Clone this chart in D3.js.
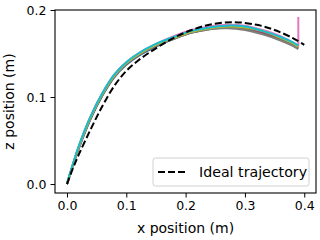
<!DOCTYPE html>
<html>
<head>
<meta charset="utf-8">
<script src="https://cdn.jsdelivr.net/npm/d3@7"></script>
<style>
body { margin: 0; background: #fff; }
text { font-family: "DejaVu Sans", sans-serif; }
</style>
</head>
<body>
<script>
// data
var xs = [0, 0.01, 0.02, 0.04, 0.06, 0.08, 0.10, 0.12, 0.15, 0.18, 0.21, 0.24, 0.27, 0.30, 0.33, 0.36, 0.38, 0.39];

var run0 = [0, 0.021, 0.041, 0.075, 0.102, 0.123, 0.137, 0.147, 0.158, 0.167, 0.174, 0.179, 0.181, 0.180, 0.175, 0.168, 0.162, 0.158];
var run1 = [0, 0.022, 0.043, 0.077, 0.104, 0.125, 0.139, 0.149, 0.160, 0.169, 0.176, 0.180, 0.181, 0.179, 0.174, 0.167, 0.161, 0.157];
var run2 = [0, 0.022, 0.043, 0.077, 0.104, 0.125, 0.139, 0.149, 0.160, 0.168, 0.175, 0.179, 0.181, 0.180, 0.175, 0.168, 0.162, 0.158];
var run3 = [0, 0.022, 0.042, 0.076, 0.103, 0.124, 0.138, 0.148, 0.159, 0.168, 0.175, 0.180, 0.182, 0.180, 0.175, 0.168, 0.162, 0.158];
var run4 = [0, 0.022, 0.043, 0.077, 0.104, 0.125, 0.139, 0.149, 0.160, 0.168, 0.175, 0.180, 0.181, 0.180, 0.175, 0.168, 0.162, 0.158];
var run5 = [0, 0.022, 0.042, 0.076, 0.103, 0.124, 0.138, 0.148, 0.159, 0.167, 0.174, 0.178, 0.180, 0.178, 0.173, 0.166, 0.160, 0.156];
var run6 = [0, 0.022, 0.043, 0.078, 0.105, 0.126, 0.140, 0.150, 0.161, 0.170, 0.177, 0.181, 0.183, 0.182, 0.177, 0.170, 0.163, 0.159];
var run7 = [0, 0.022, 0.042, 0.076, 0.103, 0.124, 0.138, 0.148, 0.159, 0.167, 0.174, 0.178, 0.179, 0.177, 0.172, 0.165, 0.159, 0.155];
var run8 = [0, 0.022, 0.043, 0.077, 0.104, 0.125, 0.139, 0.149, 0.160, 0.168, 0.175, 0.179, 0.181, 0.180, 0.176, 0.168, 0.162, 0.158];
var run9 = [0, 0.023, 0.044, 0.078, 0.105, 0.126, 0.140, 0.150, 0.161, 0.169, 0.176, 0.180, 0.182, 0.181, 0.176, 0.169, 0.163, 0.159];

// the pink run (run6) jumps straight up at its last sample
var spikeRun = 6;
var spikeZ = 0.192;

var idealX = [0, 0.01, 0.02, 0.04, 0.06, 0.08, 0.10, 0.12, 0.15, 0.18, 0.21, 0.24, 0.28, 0.32, 0.35, 0.38, 0.40];
var idealZ = [0, 0.018, 0.034, 0.063, 0.090, 0.113, 0.130, 0.142, 0.156, 0.168, 0.177, 0.183, 0.186, 0.183, 0.177, 0.168, 0.160];

var xTicks = [0, 0.1, 0.2, 0.3, 0.4];
var yTicks = [0, 0.1, 0.2];

var colors = ["#1f77b4", "#ff7f0e", "#2ca02c", "#d62728", "#9467bd",
              "#8c564b", "#e377c2", "#7f7f7f", "#bcbd22", "#17becf"];

var width = 320, height = 240;
var plotLeft = 55, plotRight = 316, plotTop = 10, plotBottom = 193;

var svg = d3.select("body").append("svg")
    .attr("width", width)
    .attr("height", height);

var xScale = d3.scaleLinear().domain([-0.0202, 0.4198]).range([plotLeft, plotRight]);
var yScale = d3.scaleLinear().domain([-0.0103, 0.2]).range([plotBottom, plotTop]);

var runs = [run0, run1, run2, run3, run4, run5, run6, run7, run8, run9].map(function(z, i) {
    return {color: colors[i], i: i, pts: xs.map(function(x, j) { return [x, z[j]]; })};
});

var line = d3.line()
    .x(function(d) { return xScale(d[0]); })
    .y(function(d) { return yScale(d[1]); })
    .curve(d3.curveCatmullRom.alpha(0.5));

var straight = d3.line()
    .x(function(d) { return xScale(d[0]); })
    .y(function(d) { return yScale(d[1]); });

svg.append("g").selectAll("path")
    .data(runs)
    .enter().append("path")
    .attr("d", function(d) {
        var p = line(d.pts);
        if (d.i === spikeRun) {
            var last = d.pts[d.pts.length - 1];
            p += straight([last, [last[0], spikeZ]]).replace("M", "L");
        }
        return p;
    })
    .attr("fill", "none")
    .attr("stroke", function(d) { return d.color; })
    .attr("stroke-width", 2)
    .attr("stroke-linejoin", "round");

svg.append("path")
    .attr("d", line(idealX.map(function(x, j) { return [x, idealZ[j]]; })))
    .attr("fill", "none")
    .attr("stroke", "black")
    .attr("stroke-width", 2)
    .attr("stroke-dasharray", "7,3");

// axes
var xAxis = svg.append("g")
    .attr("transform", "translate(0," + plotBottom + ")")
    .call(d3.axisBottom(xScale).tickValues(xTicks).tickFormat(d3.format(".1f")).tickSize(4.5).tickPadding(4));
var yAxis = svg.append("g")
    .attr("transform", "translate(" + plotLeft + ",0)")
    .call(d3.axisLeft(yScale).tickValues(yTicks).tickFormat(d3.format(".1f")).tickSize(4.5).tickPadding(4));

[xAxis, yAxis].forEach(function(ax) {
    ax.select(".domain").remove();
    ax.selectAll("line").attr("stroke", "black").attr("stroke-width", 1);
    ax.selectAll("text").attr("font-size", 12.5).attr("fill", "black")
        .attr("font-family", "DejaVu Sans, sans-serif");
});

svg.append("rect")
    .attr("x", plotLeft).attr("y", plotTop)
    .attr("width", plotRight - plotLeft).attr("height", plotBottom - plotTop)
    .attr("fill", "none").attr("stroke", "black").attr("stroke-width", 1.1);

svg.append("text")
    .attr("x", (plotLeft + plotRight) / 2).attr("y", 233)
    .attr("text-anchor", "middle").attr("font-size", 14)
    .text("x position (m)");

svg.append("text")
    .attr("transform", "translate(14," + (plotTop + plotBottom) / 2 + ") rotate(-90)")
    .attr("text-anchor", "middle").attr("font-size", 14)
    .text("z position (m)");

// legend
var lg = svg.append("g");
lg.append("rect")
    .attr("x", 153).attr("y", 158).attr("width", 156).attr("height", 28)
    .attr("rx", 2.5)
    .attr("fill", "white").attr("fill-opacity", 0.8)
    .attr("stroke", "#d0d0d0").attr("stroke-width", 1);
lg.append("line")
    .attr("x1", 158).attr("x2", 187).attr("y1", 172).attr("y2", 172)
    .attr("stroke", "black").attr("stroke-width", 2)
    .attr("stroke-dasharray", "7,3");
lg.append("text")
    .attr("x", 199).attr("y", 177)
    .attr("font-size", 14.2)
    .text("Ideal trajectory");
</script>
</body>
</html>
